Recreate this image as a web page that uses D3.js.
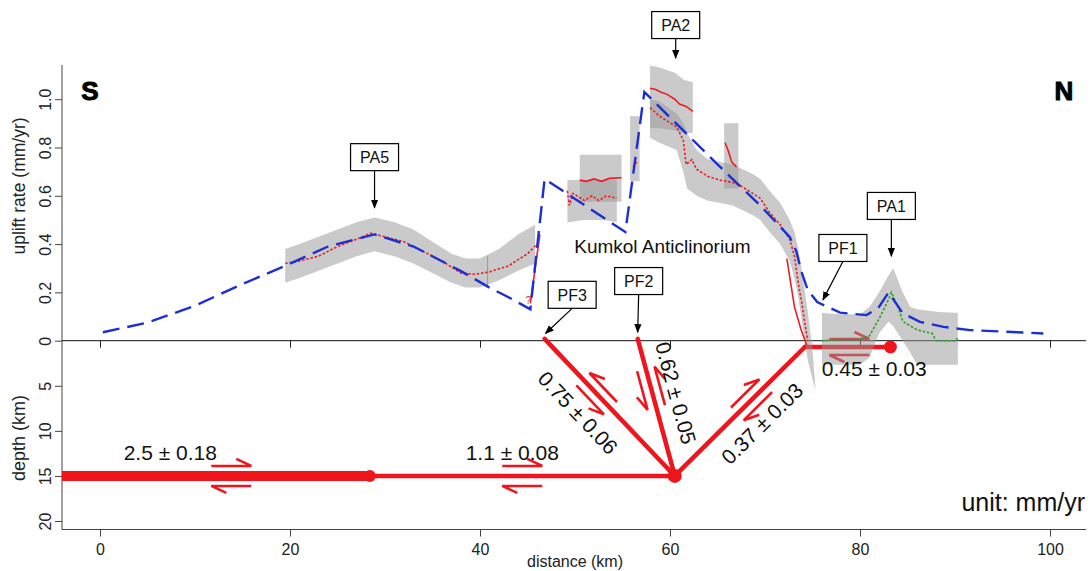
<!DOCTYPE html>
<html>
<head>
<meta charset="utf-8">
<script src="https://cdn.jsdelivr.net/npm/d3@7"></script>
<style>
body { margin: 0; background: #fff; }
svg text { font-family: "Liberation Sans", Arial, sans-serif; }
</style>
</head>
<body>
<svg id="chart" width="1092" height="571"></svg>
<script>
// ---- data (distance km, uplift mm/yr) ----
var modelUplift = [[0.3,0.035],[5,0.075],[10,0.145],[15,0.235],[19.5,0.31],[24,0.39],[28.9,0.44],[33,0.39],[37.9,0.29],[41,0.22],[43,0.18],[45.3,0.13],
	[46.8,0.67],[55.3,0.45],[57.3,1.03],[65,0.73],[69.5,0.56],[72.6,0.43],[73.3,0.37],[73.8,0.29],[74.5,0.21],[75.5,0.16],[77.9,0.116],[80.7,0.106],
	[82,0.14],[83,0.2],[84.5,0.114],[86.3,0.078],[88.8,0.057],[91.6,0.044],[99.3,0.03]];

// gray uncertainty bands: [distance, low, high]
var bandPA5 = [[19.5,0.24,0.38],[21,0.26,0.4],[23,0.29,0.43],[25,0.32,0.46],[27,0.35,0.49],[28.9,0.37,0.51],[31,0.35,0.49],[33,0.32,0.46],
	[35,0.28,0.41],[37,0.24,0.36],[38.5,0.22,0.34],[40,0.22,0.34],[42,0.25,0.38],[44,0.29,0.44],[45.8,0.32,0.48]];
var bandBlockA = [[49.2,0.49,0.665],[51,0.5,0.665],[53,0.5,0.665],[54.4,0.49,0.665]];
var bandBlockB = [[50.5,0.575,0.77],[52.5,0.575,0.77],[54.9,0.575,0.77]];
var bandStrip = [[55.8,0.66,0.93],[56.8,0.66,0.93]];
var bandPA2up = [[57.9,0.88,1.14],[59,0.88,1.13],[60.5,0.87,1.11],[61.5,0.86,1.08],[62.4,0.86,1.07]];
var bandPA2 = [[57.9,0.84,1.0],[58.9,0.82,0.99],[60.7,0.79,0.94],[61.4,0.7,0.9],[61.8,0.63,0.86],[62.8,0.6,0.79],[64,0.58,0.75],
	[65.3,0.57,0.74],[66.6,0.56,0.73],[68.7,0.52,0.69],[69.5,0.5,0.67],[70.5,0.45,0.62],[71.6,0.4,0.57],[72.6,0.33,0.5],[73.1,0.26,0.45],
	[73.5,0.18,0.38],[74,0.05,0.26],[74.5,-0.08,0.12],[75,-0.16,-0.04],[75.3,-0.2,-0.19]];
var bandSmall = [[65.7,0.63,0.9],[67.2,0.63,0.9]];
var bandPA1 = [[76,-0.1,0.115],[78,-0.1,0.11],[80,-0.1,0.11],[81,-0.07,0.14],[82,0.03,0.2],[83,0.08,0.27],[83.5,0.06,0.3],[84.5,0.0,0.2],
	[85.3,-0.05,0.14],[86,-0.1,0.13],[88,-0.1,0.12],[90.3,-0.1,0.115]];

// measured uplift profiles
var dottedPA5 = [[19.5,0.32],[21,0.33],[23,0.35],[25,0.39],[27,0.42],[28.5,0.445],[30,0.43],[32,0.41],[34,0.37],[36,0.33],[38,0.28],[39.5,0.275],
	[41,0.285],[43,0.31],[45,0.36],[46,0.4]];
var solidPA5 = [[46.3,0.44],[45.3,0.155]];
var dottedBlock = [[49.2,0.62],[49.4,0.56],[49.8,0.61],[50.4,0.595],[51,0.58],[51.8,0.6],[52.5,0.58],[53.3,0.6],[54.4,0.59]];
var solidBlock = [[50.5,0.665],[51.2,0.66],[52,0.67],[52.8,0.66],[53.6,0.672],[54.9,0.675]];
var dottedStrip = [[56.1,0.72],[56.5,0.74]];
var solidPA2 = [[57.9,1.045],[58.5,1.04],[59,1.03],[59.7,1.02],[60.5,1.0],[61,0.98],[61.7,0.97],[62.4,0.95]];
var dottedPA2 = [[57.9,0.965],[58.9,0.93],[60.7,0.885],[61.4,0.83],[61.7,0.73],[62.3,0.75],[62.8,0.71],[64,0.68],[65.3,0.665],[66.6,0.655],
	[67.5,0.64],[68.7,0.61],[69.5,0.59],[70.5,0.53],[71.6,0.48],[72.6,0.42],[73.1,0.35],[73.5,0.24],[73.9,0.15],[74.2,0.07],[74.5,0.0]];
var solidSmall = [[65.8,0.82],[66.1,0.79],[66.5,0.74],[67,0.72]];
var solidScarp = [[72.3,0.34],[72.6,0.265],[73.1,0.14],[73.8,0.045],[74.4,-0.02]];
var greenPA1 = [[76,0.0],[78,0.005],[80,0.005],[81,0.02],[82,0.09],[83,0.17],[83.3,0.2],[84,0.14],[84.5,0.08],[86,0.045],[87.6,0.03],[88,0.0],
	[90,0.0],[90.3,0.01]];

// ---- faults (distance km, depth km) ----
var detachThick = [[-4,15],[28.4,15]];
var detachThin = [[28.4,15],[60.5,15]];
var faultPF3 = [[46.8,-0.2],[60.5,15]];
var faultPF2 = [[56.6,-0.2],[60.5,15]];
var faultRamp = [[60.5,15],[74.2,0.7]];
var faultFlat = [[74.2,0.7],[83.2,0.7]];
var faultDots = [[28.4,15,6],[60.5,15,7],[83.2,0.7,6.5]];
var slipRates = ['2.5 \u00b1 0.18','1.1 \u00b1 0.08','0.75 \u00b1 0.06','0.62 \u00b1 0.05','0.37 \u00b1 0.03','0.45 \u00b1 0.03'];

// ---- axis ticks ----
var distTicks = [0,20,40,60,80,100];
var upliftTicks = [0,0.2,0.4,0.6,0.8,1.0];
var depthTicks = [5,10,15,20];

var svg = d3.select('#chart');
var x = d3.scaleLinear().domain([0,100]).range([100,1050]);
var yU = d3.scaleLinear().domain([0,1]).range([340.7,99.2]);
var yD = d3.scaleLinear().domain([0,20]).range([340.7,521]);
var RED = '#ee1c24', FAULT = '#f0151c';

function ptU(d) { return [x(d[0]), yU(d[1])]; }
function ptD(d) { return [x(d[0]), yD(d[1])]; }

svg.append('defs').append('marker')
	.attr('id','head').attr('viewBox','0 0 10 10').attr('refX',9).attr('refY',5)
	.attr('markerWidth',9).attr('markerHeight',9).attr('markerUnits','userSpaceOnUse').attr('orient','auto')
	.append('path').attr('d','M0,1 L10,5 L0,9 Z').attr('fill','#000');

// ---- axes ----
var axisG = svg.append('g').attr('font-size',15);
var left = 62, right = 1086, bottom = 529.5;
axisG.append('line').attr('x1',left).attr('x2',left).attr('y1',65).attr('y2',bottom).attr('stroke','#444');
axisG.append('line').attr('x1',left).attr('x2',right).attr('y1',bottom).attr('y2',bottom).attr('stroke','#444');
axisG.append('line').attr('x1',left).attr('x2',right).attr('y1',yU(0)).attr('y2',yU(0)).attr('stroke','#111');

var gU = axisG.append('g').attr('transform','translate(' + left + ',0)')
	.call(d3.axisLeft(yU).tickValues(upliftTicks).tickSize(7).tickSizeOuter(0)
		.tickFormat(function(d) { return d === 0 ? '0' : d3.format('.1f')(d); }));
var gD = axisG.append('g').attr('transform','translate(' + left + ',0)')
	.call(d3.axisLeft(yD).tickValues(depthTicks).tickSize(7).tickSizeOuter(0));
[gU, gD].forEach(function(g) {
	g.select('.domain').remove();
	g.attr('font-size',16).attr('font-family',null);
	g.selectAll('.tick line').attr('stroke','#444');
	g.selectAll('.tick text').attr('x',null).attr('dy',null)
		.attr('text-anchor','middle').attr('fill','#222')
		.attr('transform','translate(-11,0) rotate(-90)');
});
var gX = axisG.append('g').attr('transform','translate(0,' + bottom + ')')
	.call(d3.axisBottom(x).tickValues(distTicks).tickSize(7).tickSizeOuter(0));
gX.select('.domain').remove();
gX.attr('font-size',16).attr('font-family',null);
gX.selectAll('.tick line').attr('stroke','#444');
gX.selectAll('.tick text').attr('y',14).attr('fill','#222');
var gZ = axisG.append('g').attr('transform','translate(0,' + yU(0) + ')')
	.call(d3.axisBottom(x).tickValues(distTicks).tickSize(7).tickFormat(''));
gZ.select('.domain').remove();
gZ.selectAll('.tick line').attr('stroke','#222');

axisG.append('text').attr('transform','translate(25,186) rotate(-90)')
	.attr('text-anchor','middle').attr('font-size',17.5).attr('fill','#222').text('uplift rate (mm/yr)');
axisG.append('text').attr('transform','translate(25,' + yD(10.8) + ') rotate(-90)')
	.attr('text-anchor','middle').attr('font-size',18).attr('fill','#222').text('depth (km)');
axisG.append('text').attr('x',x(50)).attr('y',567).attr('text-anchor','middle')
	.attr('font-size',16).attr('fill','#222').text('distance (km)');

// ---- faults ----
var faults = svg.append('g');
var line = d3.line();
faults.append('path').attr('d',line(detachThick.map(ptD))).attr('stroke',FAULT).attr('stroke-width',10).attr('fill','none');
[detachThin, faultPF3, faultPF2, faultRamp, faultFlat].forEach(function(f) {
	faults.append('path').attr('d',line(f.map(ptD))).attr('stroke',FAULT).attr('stroke-width',4.5)
		.attr('stroke-linecap','round').attr('fill','none');
});

// half-arrow pairs showing slip sense
function harpoons(f, t, s, off) {
	var p0 = ptD(f[0]), p1 = ptD(f[1]);
	var dx = p1[0] - p0[0], dy = p1[1] - p0[1], len = Math.sqrt(dx * dx + dy * dy);
	var u = [dx / len, dy / len], n = [u[1], -u[0]];
	var c = [p0[0] + dx * t, p0[1] + dy * t];
	var L = 20, bk = 15, bo = 7;
	function p(a, b) { return [c[0] + a * u[0] + b * n[0], c[1] + a * u[1] + b * n[1]]; }
	[[p(-s * L, off), p(s * L, off), p(s * L - s * bk, off + bo)],
	 [p(s * L, -off), p(-s * L, -off), p(-s * L + s * bk, -off - bo)]].forEach(function(h) {
		faults.append('path').attr('d',line(h)).attr('stroke',FAULT).attr('stroke-width',2.6).attr('fill','none');
	});
}
harpoons(detachThick, 0.55, 1, 10);
harpoons(detachThin, 0.5, 1, 10);
harpoons(faultPF3, 0.4, -1, 9);
harpoons(faultPF2, 0.36, -1, 9);
harpoons(faultRamp, 0.59, 1, 9);
harpoons(faultFlat, 0.52, 1, 8);

faults.selectAll('circle').data(faultDots).enter().append('circle')
	.attr('cx',function(d) { return x(d[0]); }).attr('cy',function(d) { return yD(d[1]); })
	.attr('r',function(d) { return d[2]; }).attr('fill',FAULT);

// ---- uncertainty bands ----
var area = d3.area().x(function(d) { return x(d[0]); })
	.y0(function(d) { return yU(d[1]); }).y1(function(d) { return yU(d[2]); });
var bands = svg.append('g');
[bandPA5, bandBlockA, bandBlockB, bandStrip, bandPA2up, bandPA2, bandSmall, bandPA1].forEach(function(b) {
	bands.append('path').attr('d',area(b)).attr('fill','#969696').attr('fill-opacity',0.5);
});
bands.append('line').attr('x1',x(40.8)).attr('x2',x(40.8)).attr('y1',yU(0.22)).attr('y2',yU(0.35))
	.attr('stroke','#999').attr('stroke-width',1);

// ---- profiles ----
var prof = svg.append('g').attr('fill','none');
[dottedPA5, dottedBlock, dottedStrip, dottedPA2].forEach(function(s) {
	prof.append('path').attr('d',line(s.map(ptU))).attr('stroke',RED).attr('stroke-width',1.6).attr('stroke-dasharray','2.5,1.8');
});
[solidPA5, solidBlock, solidPA2, solidSmall, solidScarp].forEach(function(s) {
	prof.append('path').attr('d',line(s.map(ptU))).attr('stroke',RED).attr('stroke-width',1.6);
});
prof.append('path').attr('d',line(greenPA1.map(ptU))).attr('stroke','#2e9b2e').attr('stroke-width',1.6).attr('stroke-dasharray','2.5,1.8');
prof.append('path').attr('d',line(modelUplift.map(ptU))).attr('stroke','#1b2fd4').attr('stroke-width',2.4).attr('stroke-dasharray','17,8');
svg.append('text').attr('x',x(44.8)).attr('y',yU(0.15)).attr('font-size',10).attr('fill','#c33').text('?');

// ---- slip rate labels ----
var lab = svg.append('g').attr('font-size',21).attr('fill','#111').attr('text-anchor','middle');
function label(txt, d, dep, rot) {
	lab.append('text').attr('transform','translate(' + x(d) + ',' + yD(dep) + ') rotate(' + rot + ')')
		.attr('dy','0.35em').text(txt);
}
function angle(f) {
	var p0 = ptD(f[0]), p1 = ptD(f[1]);
	return Math.atan2(p1[1] - p0[1], p1[0] - p0[0]) * 180 / Math.PI;
}
label(slipRates[0], 7.4, 12.4, 0);
label(slipRates[1], 43.4, 12.4, 0);
label(slipRates[2], 50.3, 8.0, angle(faultPF3));
label(slipRates[3], 60.6, 5.8, angle(faultPF2));
label(slipRates[4], 69.7, 9.2, angle(faultRamp));
label(slipRates[5], 81.5, 3.1, 0);
svg.append('text').attr('x',1085).attr('y',yD(18.9)).attr('text-anchor','end').attr('font-size',25)
	.attr('fill','#111').text('unit: mm/yr');

svg.append('text').attr('x',x(59.2)).attr('y',yU(0.365)).attr('text-anchor','middle').attr('font-size',19)
	.attr('fill','#111').text('Kumkol Anticlinorium');
svg.append('text').attr('x',90).attr('y',100).attr('text-anchor','middle').attr('font-size',26)
	.attr('font-weight','bold').attr('stroke','#000').attr('stroke-width',1).text('S');
svg.append('text').attr('x',1064).attr('y',100).attr('text-anchor','middle').attr('font-size',26)
	.attr('font-weight','bold').attr('stroke','#000').attr('stroke-width',1).text('N');

// ---- callout boxes: [name, box distance, box uplift, tip distance, tip uplift] ----
var callouts = [['PA5',28.9,0.76,28.9,0.55],['PA2',60.6,1.307,60.6,1.17],['PA1',83.3,0.558,83.3,0.35],
	['PF1',78.2,0.384,76.1,0.169],['PF3',49.7,0.19,46.9,0.03],['PF2',56.7,0.247,56.6,0.035]];
var co = svg.append('g');
callouts.forEach(function(c) {
	var bx = x(c[1]), by = yU(c[2]), w = 48, h = 27;
	co.append('line').attr('x1',bx).attr('y1',by + h / 2).attr('x2',x(c[3])).attr('y2',yU(c[4]))
		.attr('stroke','#000').attr('stroke-width',1.2).attr('marker-end','url(#head)');
	co.append('rect').attr('x',bx - w / 2).attr('y',by - h / 2).attr('width',w).attr('height',h)
		.attr('fill','#fff').attr('stroke','#000').attr('stroke-width',1.2);
	co.append('text').attr('x',bx).attr('y',by).attr('dy','0.36em').attr('text-anchor','middle')
		.attr('font-size',16).attr('fill','#111').text(c[0]);
});
</script>
</body>
</html>
